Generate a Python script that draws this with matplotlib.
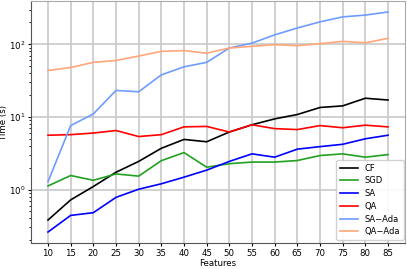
import numpy as np
import matplotlib
matplotlib.use("Agg")
import matplotlib.pyplot as plt

features = [10, 15, 20, 25, 30, 35, 40, 45, 50, 55, 60, 65, 70, 75, 80, 85]

cf = [0.38, 0.72, 1.1, 1.73, 2.44, 3.7, 4.9, 4.55, 6.2, 7.8, 9.4, 10.8, 13.5, 14.2, 18.1, 17.1]
sgd = [1.12, 1.56, 1.34, 1.64, 1.53, 2.5, 3.23, 2.03, 2.27, 2.39, 2.39, 2.51, 2.94, 3.1, 2.79, 3.03]
sa = [0.26, 0.44, 0.48, 0.78, 1.01, 1.2, 1.48, 1.85, 2.44, 3.1, 2.79, 3.6, 3.9, 4.2, 5.0, 5.6]
qa = [5.6, 5.7, 6.0, 6.5, 5.37, 5.7, 7.3, 7.4, 6.2, 7.8, 6.9, 6.7, 7.6, 7.1, 7.7, 7.3]
sa_ada = [1.28, 7.6, 11.0, 23.2, 22.2, 38, 49, 56.5, 89, 104, 135, 168, 204, 239, 253, 279]
qa_ada = [43.6, 48, 56.5, 60, 69, 80, 82, 75.5, 89, 94, 99, 96, 102, 110, 105, 121]

series = [
    ("CF", cf, "black"),
    ("SGD", sgd, "#22a022"),
    ("SA", sa, "blue"),
    ("QA", qa, "red"),
    ("SA\u2212Ada", sa_ada, "#6f9cff"),
    ("QA\u2212Ada", qa_ada, "#ffa77a"),
]

plt.rcParams.update({"font.family": "DejaVu Sans", "font.size": 6.2})

fig = plt.figure(figsize=(4.07, 2.69), dpi=100)
ax = fig.add_axes([31/407, 26/269, 374/407, 242/269])

for name, vals, color in series:
    ax.plot(features, vals, color=color, lw=1.2, label=name)

ax.set_yscale("log")
ax.set_xticks(features)
ax.grid(True, which="major", color="#c8c8c8", lw=1.2)
ax.set_xlabel("Features", labelpad=1)
ax.yaxis.set_label_coords(-0.062, 0.5)
ax.set_ylabel("Time (s)")
for s in ["left", "bottom"]:
    ax.spines[s].set_color("#555555")
for s in ["top", "right"]:
    ax.spines[s].set_color("#aaaaaa")
ax.tick_params(length=2.5, pad=1.5)
ax.tick_params(which="minor", length=1.5)
ax.legend(loc="lower right", fontsize=6, handlelength=2.2, framealpha=0.9,
          labelspacing=0.45, borderaxespad=0.4, bbox_to_anchor=(1.005, 0.0))

fig.savefig("out.png", dpi=100)
